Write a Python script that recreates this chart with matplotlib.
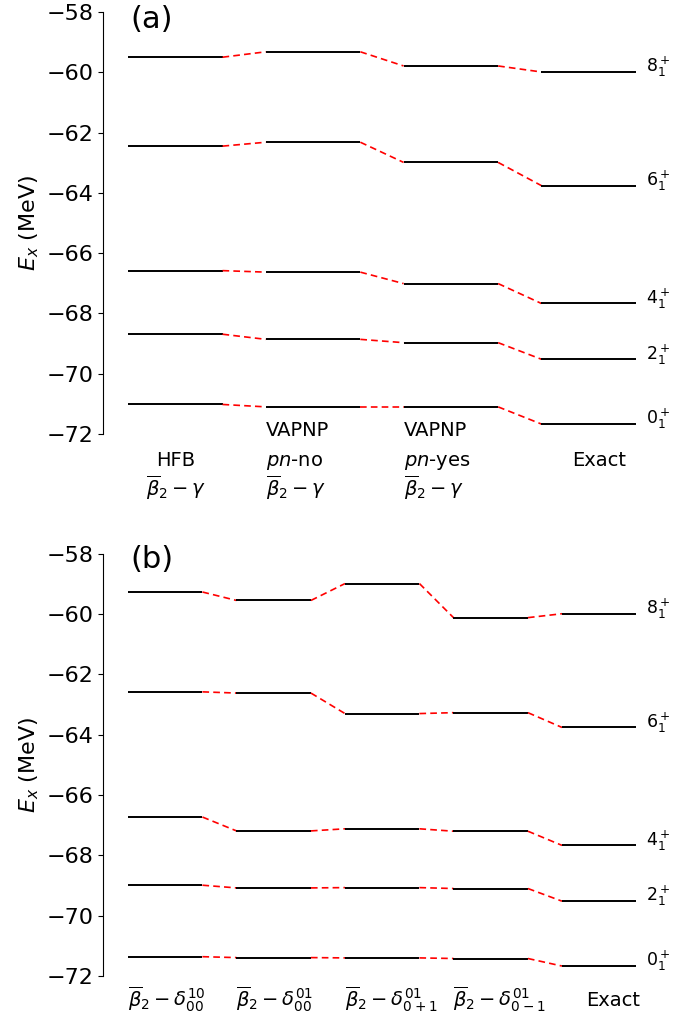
import matplotlib
matplotlib.use("Agg")
import matplotlib.pyplot as plt

# ---- data ----
states = [r"$0_1^+$", r"$2_1^+$", r"$4_1^+$", r"$6_1^+$", r"$8_1^+$"]

# panel (a) columns: HFB, VAPNP pn-no, VAPNP pn-yes, Exact
a_hfb = [-71.02, -68.69, -66.58, -62.45, -59.50]
a_pnno = [-71.10, -68.86, -66.63, -62.32, -59.32]
a_pnyes = [-71.10, -68.97, -67.01, -62.99, -59.79]
exact = [-71.67, -69.52, -67.67, -63.76, -59.99]
a_cols = [a_hfb, a_pnno, a_pnyes, exact]

# panel (b) columns
b_d00_10 = [-71.36, -68.99, -66.73, -62.58, -59.27]
b_d00_01 = [-71.39, -69.08, -67.19, -62.62, -59.55]
b_d0p1 = [-71.40, -69.07, -67.12, -63.30, -58.99]
b_d0m1 = [-71.42, -69.10, -67.20, -63.27, -60.12]
b_cols = [b_d00_10, b_d00_01, b_d0p1, b_d0m1, exact]

yticks = [-72, -70, -68, -66, -64, -62, -60, -58]

W = 0.686  # level width in column units

fig = plt.figure(figsize=(6.96, 10.16), dpi=100)
axA = fig.add_axes([103/696, 1-434/1016, (680-103)/696, 422/1016])
axB = fig.add_axes([103/696, 1-976/1016, (680-103)/696, 422.3/1016])


def draw(ax, cols, xl, xr, lab_x):
    for i, col in enumerate(cols):
        for v in col:
            ax.plot([i, i + W], [v, v], color="black", lw=1.4, solid_capstyle="butt")
        if i + 1 < len(cols):
            nxt = cols[i + 1]
            for v, w in zip(col, nxt):
                ax.plot([i + W, i + 1], [v, w], color="red", lw=1.2, ls=(0, (4, 2.5)))
    for s, v in zip(states, cols[-1]):
        ax.text(lab_x, v, s, fontsize=12.5, va="baseline", ha="left")
    ax.set_xlim(xl, xr)
    ax.set_ylim(-72, -58)
    ax.set_yticks(yticks)
    ax.tick_params(axis="y", labelsize=16)
    ax.set_xticks([])
    for sp in ["top", "right", "bottom"]:
        ax.spines[sp].set_visible(False)
    ax.set_ylabel(r"$E_x$ (MeV)", fontsize=16)


draw(axA, a_cols, -25/137.8, 552/137.8, 3.76)
draw(axB, b_cols, -25/108.5, 552/108.5, 4.77)

axA.text(0.047, 1.017, "(a)", transform=axA.transAxes, fontsize=22, va="top", ha="left")
axB.text(0.047, 1.02, "(b)", transform=axB.transAxes, fontsize=22, va="top", ha="left")

kw = dict(fontsize=14, va="baseline", clip_on=False)
# panel (a) column labels
axA.text(0.348, -73.05, "HFB", ha="center", **kw)
axA.text(0.348, -74.05, r"$\overline{\beta}_2-\gamma$", ha="center", **kw)
for i, pn in [(1, "no"), (2, "yes")]:
    axA.text(i, -72.05, "VAPNP", ha="left", **kw)
    axA.text(i, -73.05, r"$pn$-" + pn, ha="left", **kw)
    axA.text(i, -74.05, r"$\overline{\beta}_2-\gamma$", ha="left", **kw)
axA.text(3.42, -73.05, "Exact", ha="center", **kw)

# panel (b) column labels
b_labels = [r"$\overline{\beta}_2-\delta_{00}^{10}$",
            r"$\overline{\beta}_2-\delta_{00}^{01}$",
            r"$\overline{\beta}_2-\delta_{0+1}^{01}$",
            r"$\overline{\beta}_2-\delta_{0-1}^{01}$"]
for i, t in enumerate(b_labels):
    axB.text(i, -73.0, t, ha="left", **kw)
axB.text(4.47, -73.0, "Exact", ha="center", **kw)

fig.savefig("out.png", dpi=100)
